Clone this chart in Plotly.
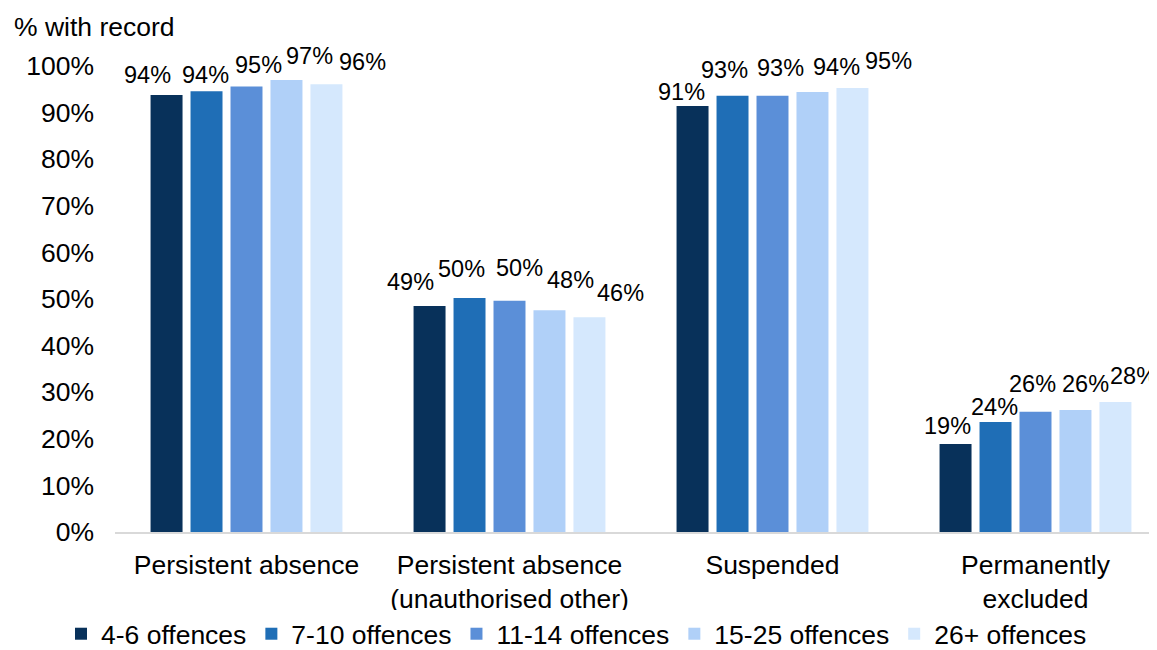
import plotly.graph_objects as go

categories = ["Persistent absence", "Persistent absence<br>(unauthorised other)", "Suspended", "Permanently<br>excluded"]
series_names = ["4-6 offences", "7-10 offences", "11-14 offences", "15-25 offences", "26+ offences"]
colors = ["#08315a", "#1f6eb6", "#5b8fd8", "#b0d0f8", "#d5e8fd"]

v_4_6 = [93.8, 48.5, 91.4, 18.9]
v_7_10 = [94.6, 50.2, 93.6, 23.6]
v_11_14 = [95.6, 49.6, 93.6, 25.8]
v_15_25 = [97.0, 47.6, 94.4, 26.2]
v_26p = [96.1, 46.1, 95.3, 27.9]

l_4_6 = ["94%", "49%", "91%", "19%"]
l_7_10 = ["94%", "50%", "93%", "24%"]
l_11_14 = ["95%", "50%", "93%", "26%"]
l_15_25 = ["97%", "48%", "94%", "26%"]
l_26p = ["96%", "46%", "95%", "28%"]

values = [v_4_6, v_7_10, v_11_14, v_15_25, v_26p]
labels = [l_4_6, l_7_10, l_11_14, l_15_25, l_26p]

y_ticks = [0, 10, 20, 30, 40, 50, 60, 70, 80, 90, 100]
y_ticktext = [f"{t}%" for t in y_ticks]

# label placement offsets (pixels, relative to top-centre of each bar), styling only
label_dx = [[-19, -19, -11, -8], [-1, -8, -8, -1], [12, 10, 8, -3], [23, 21, 24, 10], [36, 31, 36, 18]]
label_dy = [[20, 24, 14, 18], [16, 29, 26, 15], [22, 33, 28, 28], [24, 30, 25, 26], [22, 24, 27, 26]]

FONT = "Liberation Sans, Arial, sans-serif"
FS = 26.5
LFS = 23.5

fig = go.Figure()
for name, vals, col in zip(series_names, values, colors):
    fig.add_trace(go.Bar(x=categories, y=vals, name=name, marker_color=col, marker_line_width=0))

n = len(series_names)
for si, (vals, labs) in enumerate(zip(values, labels)):
    for ci, (cat, v, lab) in enumerate(zip(categories, vals, labs)):
        fig.add_annotation(
            x=cat, y=v, xref="x", yref="y", text=lab, showarrow=False,
            xanchor="center", yanchor="middle",
            xshift=(si - (n - 1) / 2) * 40 + label_dx[si][ci], yshift=label_dy[si][ci],
            font=dict(size=LFS, family=FONT, color="#000000"),
        )

fig.update_layout(
    width=1157, height=650,
    margin=dict(l=107, r=8, t=58, b=126, autoexpand=False),
    paper_bgcolor="white", plot_bgcolor="white",
    font=dict(family=FONT, size=FS, color="#000000"),
    barmode="group", bargap=0.24, bargroupgap=0.2,
    showlegend=True,
    legend=dict(orientation="h", x=0.0458, xanchor="left", y=-0.005, yanchor="bottom",
                xref="container", yref="container",
                font=dict(size=FS), traceorder="normal"),
    xaxis=dict(range=[-0.5, 3.462], showline=True, linecolor="#d9d9d9", linewidth=2,
               ticks="", showgrid=False, tickfont=dict(size=FS), ticklabelstandoff=8),
    yaxis=dict(range=[0, 100], tickvals=y_ticks, ticktext=y_ticktext, showgrid=False,
               showline=False, zeroline=False, ticks="", tickfont=dict(size=FS),
               ticklabelstandoff=20),
)
fig.add_annotation(text="% with record", xref="paper", yref="paper", x=-107 / 1042, y=1.0,
                   xanchor="left", yanchor="middle", xshift=4, yshift=39, showarrow=False,
                   font=dict(size=FS, family=FONT, color="#000000"))

fig.write_html("out.html")
